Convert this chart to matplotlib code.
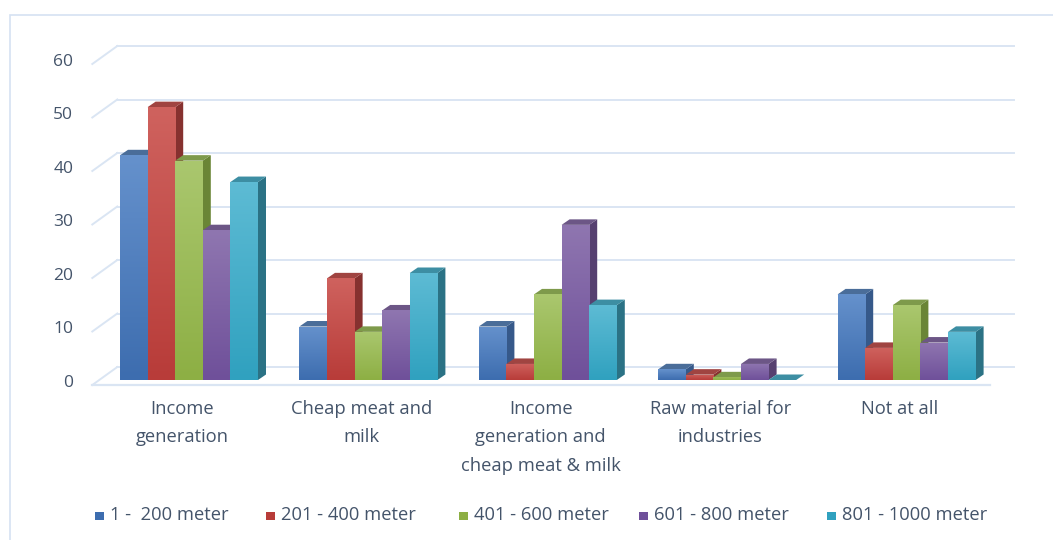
import numpy as np
import matplotlib
matplotlib.use("Agg")
import matplotlib.pyplot as plt
from matplotlib.patches import Rectangle, Polygon
from matplotlib.colors import LinearSegmentedColormap

# data
categories = ["Income\ngeneration", "Cheap meat and\nmilk",
              "Income\ngeneration and\ncheap meat & milk",
              "Raw material for\nindustries", "Not at all"]
series = ["1 -  200 meter", "201 - 400 meter", "401 - 600 meter",
          "601 - 800 meter", "801 - 1000 meter"]
v_1_200 = [42, 10, 10, 2, 16]
v_201_400 = [51, 19, 3, 1, 6]
v_401_600 = [41, 9, 16, 0.5, 14]
v_601_800 = [28, 13, 29, 3, 7]
v_801_1000 = [37, 20, 14, 0, 9]
values = [v_1_200, v_201_400, v_401_600, v_601_800, v_801_1000]
yticks = [0, 10, 20, 30, 40, 50, 60]

# face colours: (front top, front bottom, side, top)
faces = [("#6591CC", "#3D6DAF", "#36598A", "#4A6D99"),
         ("#CF625E", "#B83C39", "#86312F", "#A04441"),
         ("#AAC76E", "#8DAF44", "#6A8536", "#7E9A4B"),
         ("#8F76B0", "#6F509A", "#564070", "#6C5686"),
         ("#5DBBD4", "#30A1BF", "#2B7285", "#3D8EA3")]

W, H = 1053, 540
PX_X, PX_Y = 179.4, 5.35          # pixels per category / per value unit
X0, Y0 = 189, 380                 # pixel of category 0 / value 0

fig = plt.figure(figsize=(W / 100, H / 100), dpi=100)
ax = fig.add_axes([0, 0, 1, 1])
ax.set_xlim(-X0 / PX_X, (W - X0) / PX_X)
ax.set_ylim(-(H - Y0) / PX_Y, Y0 / PX_Y)
ax.axis("off")

font = "Open Sans"
tcol = "#44546A"
grid = "#DAE5F3"

# depth offsets (data units)
bdx, bdy = 8 / PX_X, 5.5 / PX_Y       # bar depth
fdx, fdy = -7 / PX_X, -5 / PX_Y       # front plane
kdx, kdy = 18 / PX_X, 13 / PX_Y       # back wall
right_back = (1014 - X0) / PX_X
right_front = (990 - X0) / PX_X

# back wall gridlines + left diagonals
for t in yticks:
    ax.plot([fdx - 0.5, kdx - 0.5], [t + fdy, t + kdy], color=grid, lw=1.4, zorder=1)
    ax.plot([kdx - 0.5, right_back], [t + kdy, t + kdy], color=grid, lw=1.4, zorder=1)
    ax.text(fdx - 0.5 - 19 / PX_X, t + fdy + 0.4, str(t), ha="right", va="center",
            fontsize=12.5, color=tcol, family=font)
ax.plot([fdx - 0.5, right_front], [fdy, fdy], color=grid, lw=1.6, zorder=1)

bw = 27.6 / PX_X
x = np.arange(len(categories))
grad = np.linspace(1, 0, 64).reshape(-1, 1)

for j, vals in enumerate(values):
    ftop, fbot, side, top = faces[j]
    left = x - 2.5 * bw + j * bw
    z = 10 + 2 * j
    bars = ax.bar(left, vals, width=bw, align="edge", color=fbot, lw=0, zorder=z + 1)
    cmap = LinearSegmentedColormap.from_list("g%d" % j, [fbot, ftop])
    for b, l, v in zip(bars, left, vals):
        ax.add_patch(Polygon([(l + bw, 0), (l + bw + bdx, bdy), (l + bw + bdx, v + bdy), (l + bw, v)],
                             closed=True, color=side, lw=0, zorder=z))
        ax.add_patch(Polygon([(l, v), (l + bdx, v + bdy), (l + bw + bdx, v + bdy), (l + bw, v)],
                             closed=True, color=top, lw=0, zorder=z))
        if v > 0:
            im = ax.imshow(grad, cmap=cmap, aspect="auto", extent=(l, l + bw, 0, max(v, 1)),
                           zorder=z + 1, interpolation="bicubic")
            im.set_clip_path(b)

# category labels
for i, c in enumerate(categories):
    ax.text(i + fdx, -20 / PX_Y, c, ha="center", va="top", fontsize=13.2,
            color=tcol, family=font, linespacing=1.75)

# legend
sq_x = [95, 266, 459, 639, 827]
for sx, name, f in zip(sq_x, series, faces):
    fig.patches.append(Rectangle((sx / W, 1 - 520 / H), 8.5 / W, 8.5 / H,
                                 transform=fig.transFigure, color=f[1], lw=0))
    fig.text((sx + 15) / W, 1 - 515 / H, name, ha="left", va="center",
             fontsize=13.2, color=tcol, family=font)

# chart border
fig.patches.append(Rectangle((10 / W, -0.1), 1.2, 1.1 - 15 / H, transform=fig.transFigure,
                             fill=False, edgecolor="#D5E2F2", lw=1.2))

fig.savefig("out.png", dpi=100)
